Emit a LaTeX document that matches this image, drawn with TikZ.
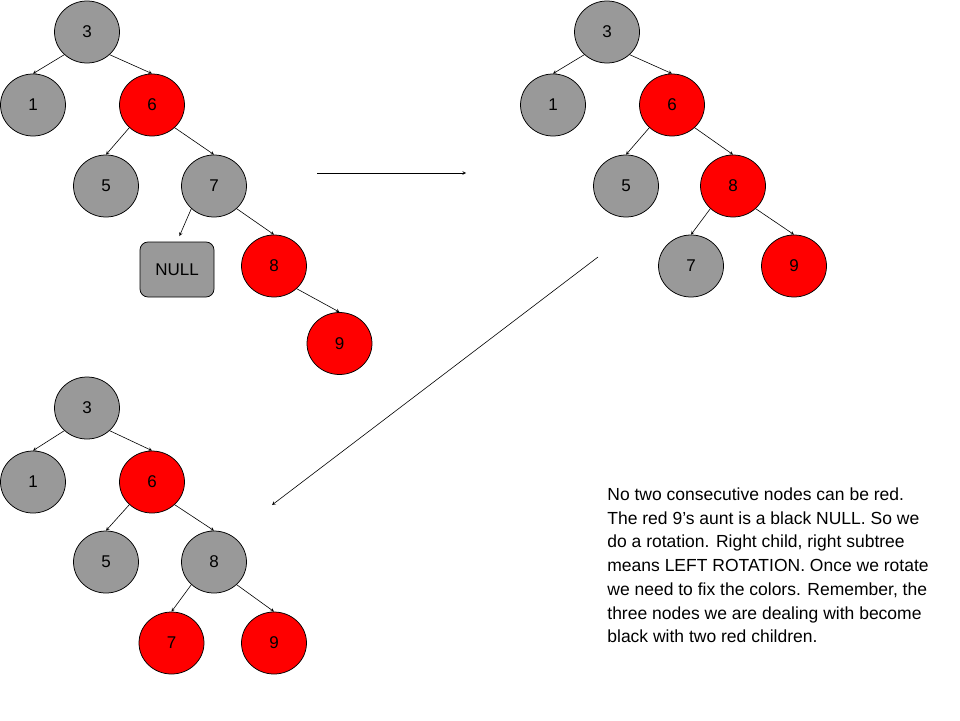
\documentclass[tikz,border=0pt]{standalone}
\usepackage{fontspec}
\setmainfont{Liberation Sans}
\usetikzlibrary{arrows,shapes,positioning}
\tikzset{>=stealth}
\definecolor{blk}{HTML}{999999}
\definecolor{rd}{HTML}{FF0000}

\begin{document}
\begin{tikzpicture}[x=1pt,y=-1pt,line width=.75pt,
        rbnode/.style={ellipse,draw,minimum width=65pt,minimum height=62pt,inner sep=0pt,font=\fontsize{17}{20}\selectfont},
        blacknode/.style={rbnode,fill=blk},
        rednode/.style={rbnode,fill=rd},
        edge/.style={->,line width=.6pt}]
        \useasboundingbox (0,0) rectangle (960,720);
        % before the rotation
        \node[blacknode] (a3) at (87,32) {3};
        \node[blacknode] (a1) at (33,105) {1};
        \node[rednode] (a6) at (152,105) {6};
        \node[blacknode] (a5) at (106,186) {5};
        \node[blacknode] (a7) at (214,186) {7};
        \node[draw,fill=blk,rounded corners=8pt,minimum width=74pt,minimum height=55pt,font=\fontsize{17}{20}\selectfont] (anull) at (177,269.5) {NULL};
        \node[rednode] (a8) at (274,266) {8};
        \node[rednode] (a9) at (339.5,343.5) {9};
        \draw[edge] (a3.225)--(a1.north);
        \draw[edge] (a3.-45)--(a6.north);
        \draw[edge] (a6.225)--(a5.north);
        \draw[edge] (a6.-45)--(a7.north);
        \draw[edge,shorten >=6pt] (a7.225)--(anull.north);
        \draw[edge] (a7.-45)--(a8.north);
        \draw[edge] (a8.-45)--(a9.north);
        % after the rotation
        \node[blacknode] (b3) at (607,32) {3};
        \node[blacknode] (b1) at (553,105) {1};
        \node[rednode] (b6) at (672,105) {6};
        \node[blacknode] (b5) at (626,186) {5};
        \node[rednode] (b8) at (733,186) {8};
        \node[blacknode] (b7) at (691,266) {7};
        \node[rednode] (b9) at (794,266) {9};
        \draw[edge] (b3.225)--(b1.north);
        \draw[edge] (b3.-45)--(b6.north);
        \draw[edge] (b6.225)--(b5.north);
        \draw[edge] (b6.-45)--(b8.north);
        \draw[edge] (b8.225)--(b7.north);
        \draw[edge] (b8.-45)--(b9.north);
        % after recolouring
        \node[blacknode] (c3) at (87,408) {3};
        \node[blacknode] (c1) at (33,482) {1};
        \node[rednode] (c6) at (152,482) {6};
        \node[blacknode] (c5) at (106,562) {5};
        \node[blacknode] (c8) at (214,562) {8};
        \node[rednode] (c7) at (171.5,643) {7};
        \node[rednode] (c9) at (274,643) {9};
        \draw[edge] (c3.225)--(c1.north);
        \draw[edge] (c3.-45)--(c6.north);
        \draw[edge] (c6.225)--(c5.north);
        \draw[edge] (c6.-45)--(c8.north);
        \draw[edge] (c8.225)--(c7.north);
        \draw[edge] (c8.-45)--(c9.north);
        % steps
        \coordinate (s1) at (317,173);
        \coordinate (t1) at (466,173);
        \coordinate (s2) at (598,257);
        \coordinate (t2) at (272,505);
        \draw[edge] (s1)--(t1);
        \draw[edge] (s2)--(t2);
        \node[anchor=north west,align=left,inner sep=0pt,font=\fontsize{17.5}{23.7}\selectfont] (note) at (607,487.5) {No two consecutive nodes can be red.\\
          The red 9’s aunt is a black NULL. So we\\
          do a rotation. Right child, right subtree\\
          means LEFT ROTATION. Once we rotate\\
          we need to fix the colors. Remember, the\\
          three nodes we are dealing with become\\
          black with two red children.};
\end{tikzpicture}
\end{document}
